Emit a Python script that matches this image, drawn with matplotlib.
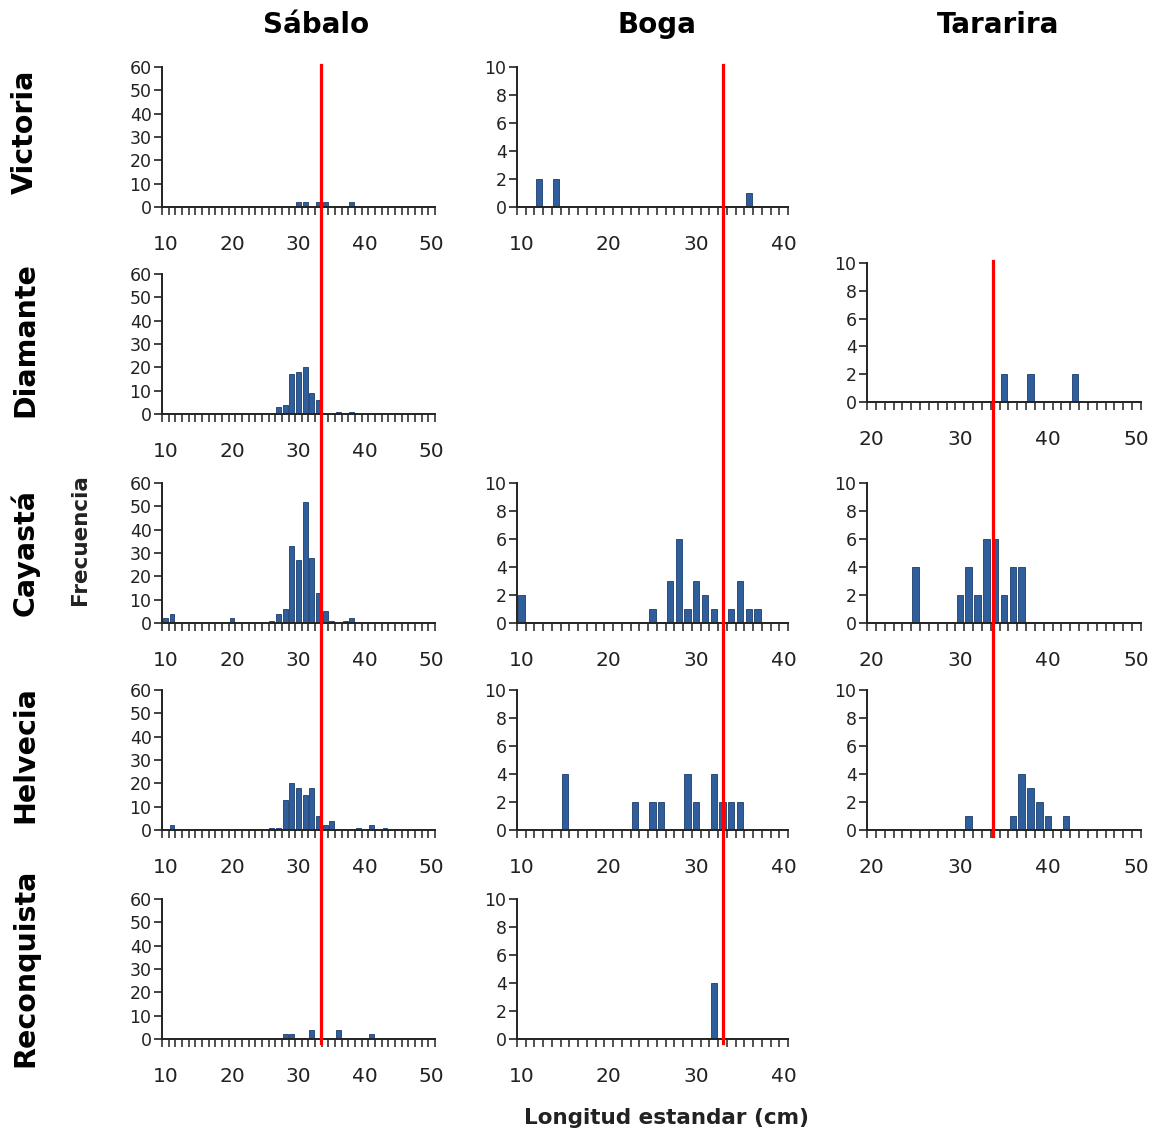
import numpy as np
import matplotlib
matplotlib.use("Agg")
import matplotlib.pyplot as plt
import matplotlib.transforms as mtransforms
from matplotlib.lines import Line2D

# Frecuencias por clase de longitud estandar (cm), solo clases con captura
sabalo_victoria_len = [30, 31, 33, 34, 38]
sabalo_victoria_n = [2, 2, 2, 2, 2]
sabalo_diamante_len = [27, 28, 29, 30, 31, 32, 33, 36, 38]
sabalo_diamante_n = [3, 4, 17, 18, 20, 9, 6, 1, 1]
sabalo_cayasta_len = [10, 11, 20, 26, 27, 28, 29, 30, 31, 32, 33, 34, 35, 37, 38]
sabalo_cayasta_n = [2, 4, 2, 1, 4, 6, 33, 27, 52, 28, 13, 5, 1, 1, 2]
sabalo_helvecia_len = [11, 26, 27, 28, 29, 30, 31, 32, 33, 34, 35, 39, 41, 43]
sabalo_helvecia_n = [2, 1, 1, 13, 20, 18, 15, 18, 6, 2, 4, 1, 2, 1]
sabalo_reconquista_len = [28, 29, 32, 36, 41]
sabalo_reconquista_n = [2, 2, 4, 4, 2]

boga_victoria_len = [12, 14, 36]
boga_victoria_n = [2, 2, 1]
boga_cayasta_len = [10, 25, 27, 28, 29, 30, 31, 32, 34, 35, 36, 37]
boga_cayasta_n = [2, 1, 3, 6, 1, 3, 2, 1, 1, 3, 1, 1]
boga_helvecia_len = [15, 23, 25, 26, 29, 30, 32, 33, 34, 35]
boga_helvecia_n = [4, 2, 2, 2, 4, 2, 4, 2, 2, 2]
boga_reconquista_len = [32]
boga_reconquista_n = [4]

tararira_diamante_len = [35, 38, 43]
tararira_diamante_n = [2, 2, 2]
tararira_cayasta_len = [25, 30, 31, 32, 33, 34, 35, 36, 37]
tararira_cayasta_n = [4, 2, 4, 2, 6, 6, 2, 4, 4]
tararira_helvecia_len = [31, 36, 37, 38, 39, 40, 42]
tararira_helvecia_n = [1, 1, 4, 3, 2, 1, 1]

especies = ["Sábalo", "Boga", "Tararira"]
sitios = ["Victoria", "Diamante", "Cayastá", "Helvecia", "Reconquista"]
rango_x = [(10, 50), (10, 40), (20, 50)]
ymax = [60, 10, 10]
ypaso = [10, 2, 2]
talla = [33.35, 33.1, 33.7]  # linea de referencia por especie

W, H = 1154, 1136
fig = plt.figure(figsize=(W / 100, H / 100), dpi=100)

col_px = [(162, 435), (517, 788), (867, 1141)]
fila_px = [(67, 207), (274, 414), (483, 623), (690, 830), (899, 1039)]
tararira_diamante_px = (263, 402)

paneles = {
    (0, 0): (sabalo_victoria_len, sabalo_victoria_n),
    (1, 0): (sabalo_diamante_len, sabalo_diamante_n),
    (2, 0): (sabalo_cayasta_len, sabalo_cayasta_n),
    (3, 0): (sabalo_helvecia_len, sabalo_helvecia_n),
    (4, 0): (sabalo_reconquista_len, sabalo_reconquista_n),
    (0, 1): (boga_victoria_len, boga_victoria_n),
    (2, 1): (boga_cayasta_len, boga_cayasta_n),
    (3, 1): (boga_helvecia_len, boga_helvecia_n),
    (4, 1): (boga_reconquista_len, boga_reconquista_n),
    (1, 2): (tararira_diamante_len, tararira_diamante_n),
    (2, 2): (tararira_cayasta_len, tararira_cayasta_n),
    (3, 2): (tararira_helvecia_len, tararira_helvecia_n),
}

ejes = {}
for (f, c), (lon, n) in paneles.items():
    x0, x1 = col_px[c]
    y0, y1 = tararira_diamante_px if (f, c) == (1, 2) else fila_px[f]
    ax = fig.add_axes([x0 / W, 1 - y1 / H, (x1 - x0) / W, (y1 - y0) / H])
    lo, hi = rango_x[c]
    ax.bar(lon, n, width=0.72, color="#2F5E9C", edgecolor="#1C3C6A", linewidth=0.6, zorder=2)
    ax.set_xlim(lo - 0.5, hi + 0.5)
    ax.set_ylim(0, ymax[c])
    ax.set_yticks(np.arange(0, ymax[c] + 1, ypaso[c]))
    ax.set_xticks(np.arange(lo - 0.5, hi + 1.0, 1.0))
    ax.set_xticklabels([])
    ax.set_xticks(np.arange(lo, hi + 1, 10), minor=True)
    ax.set_xticklabels([str(v) for v in range(lo, hi + 1, 10)], minor=True)
    ax.tick_params(axis="x", which="major", direction="out", length=6, width=1.1, color="#222222")
    ax.tick_params(axis="x", which="minor", length=0, pad=20, labelsize=14.5, labelcolor="#222222")
    ax.tick_params(axis="y", direction="out", length=5.5, width=1.2, pad=2, labelsize=12.5,
                   color="#222222", labelcolor="#222222")
    for s in ["top", "right"]:
        ax.spines[s].set_visible(False)
    for s in ["left", "bottom"]:
        ax.spines[s].set_linewidth(1.4)
        ax.spines[s].set_color("#222222")
    ax.patch.set_alpha(0)
    ejes[(f, c)] = ax

# lineas rojas verticales que cruzan cada columna
extremos = [(65, 1043), (65, 1043), (261, 836)]
arriba = [ejes[(0, 0)], ejes[(0, 1)], ejes[(1, 2)]]
for c in range(3):
    tr = mtransforms.blended_transform_factory(arriba[c].transData, fig.transFigure)
    ya, yb = extremos[c]
    fig.add_artist(Line2D([talla[c], talla[c]], [1 - ya / H, 1 - yb / H], transform=tr,
                          color="#FF0000", linewidth=2.3, zorder=10, clip_on=False))

# titulos de columna y fila
col_x = [316, 657, 998]
for c, nombre in enumerate(especies):
    fig.text(col_x[c] / W, 1 - 25 / H, nombre, ha="center", va="center",
             fontsize=20, fontweight="bold")
fila_y = [132, 340, 552, 755, 968]
for f, nombre in enumerate(sitios):
    fig.text(25 / W, 1 - fila_y[f] / H, nombre, ha="center", va="center",
             rotation=90, fontsize=20.5, fontweight="bold")

fig.text(80 / W, 1 - 540 / H, "Frecuencia", ha="center", va="center", rotation=90,
         fontsize=15.5, fontweight="bold", color="#222222")
fig.text(666 / W, 1 - 1118 / H, "Longitud estandar (cm)", ha="center", va="center",
         fontsize=15.5, fontweight="bold", color="#222222")

fig.savefig("out.png", dpi=100)
